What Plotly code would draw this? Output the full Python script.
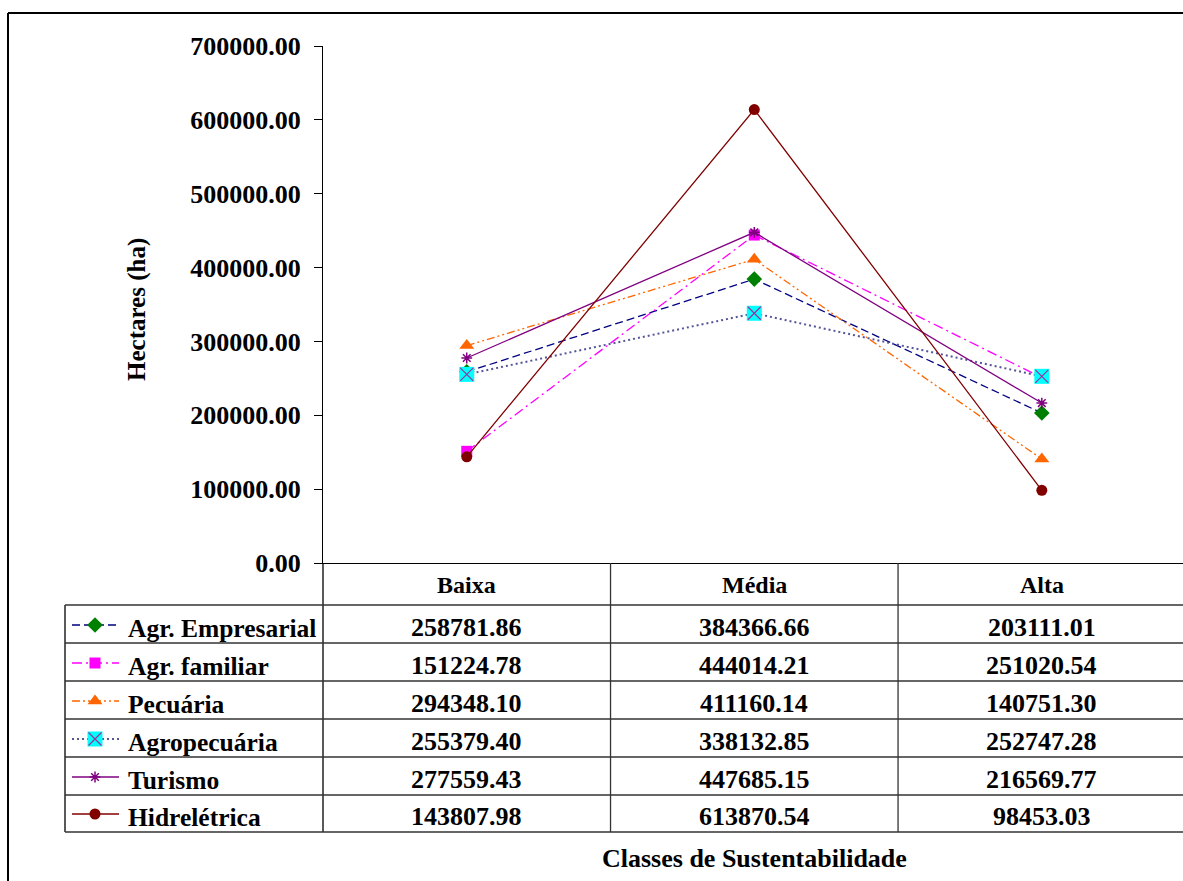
import plotly.graph_objects as go

# ---------------- data ----------------
categories = ["Baixa", "Média", "Alta"]
series_names = ["Agr. Empresarial", "Agr. familiar", "Pecuária", "Agropecuária", "Turismo", "Hidrelétrica"]
agr_empresarial = [258781.86, 384366.66, 203111.01]
agr_familiar = [151224.78, 444014.21, 251020.54]
pecuaria = [294348.10, 411160.14, 140751.30]
agropecuaria = [255379.40, 338132.85, 252747.28]
turismo = [277559.43, 447685.15, 216569.77]
hidreletrica = [143807.98, 613870.54, 98453.03]
series_values = [agr_empresarial, agr_familiar, pecuaria, agropecuaria, turismo, hidreletrica]
y_ticks = [0, 100000, 200000, 300000, 400000, 500000, 600000, 700000]

# ---------------- styles ----------------
W, H = 1183, 881
FONT = "Liberation Serif"
styles = [
    dict(line=dict(color="#000080", width=1.3, dash="8px,4px"),
         marker=dict(symbol="diamond", size=12, color="#008000")),
    dict(line=dict(color="#FF00FF", width=1.3, dash="10px,4px,2px,4px"),
         marker=dict(symbol="square", size=11, color="#FF00FF")),
    dict(line=dict(color="#FF6600", width=1.3, dash="8px,3px,2px,3px,2px,3px"),
         marker=dict(symbol="triangle-up", size=13, color="#FF6600")),
    dict(line=dict(color="#55559A", width=2, dash="2px,3px"),
         marker=dict(symbol="square", size=15, color="#00FFFF")),
    dict(line=dict(color="#800080", width=1.3, dash="solid"),
         marker=dict(symbol="asterisk-open", size=9, color="#800080",
                     line=dict(color="#800080", width=1.5))),
    dict(line=dict(color="#800000", width=1.3, dash="solid"),
         marker=dict(symbol="circle", size=11, color="#800000")),
]
overlay_x = dict(symbol="x-thin-open", size=13, color="#993399",
                 line=dict(color="#993399", width=1.2))


def px(x):
    return x / W


def py(y):
    return 1 - y / H


# layout constants (pixels)
plot_left, plot_top, plot_bottom = 323, 46, 563
header_bottom = 605
row_lines = [605, 643, 681, 719, 757, 795, 832]
row_text_y = [625, 663, 701, 739, 777, 814]
legend_left = 65
sample_x0, sample_xm, sample_x1 = 72, 95, 119
label_x = 126

fig = go.Figure()

for name, vals, st in zip(series_names, series_values, styles):
    fig.add_trace(go.Scatter(x=categories, y=vals, mode="lines+markers", name=name,
                             line=st["line"], marker=st["marker"], showlegend=False,
                             xaxis="x", yaxis="y"))
    if name == "Agropecuária":
        fig.add_trace(go.Scatter(x=categories, y=vals, mode="markers", marker=overlay_x,
                                 showlegend=False, xaxis="x", yaxis="y"))

# legend samples inside table (pixel axes)
for i, st in enumerate(styles):
    yy = row_text_y[i]
    fig.add_trace(go.Scatter(x=[sample_x0, sample_x1], y=[yy, yy], mode="lines",
                             line=st["line"], showlegend=False, xaxis="x2", yaxis="y2",
                             hoverinfo="skip"))
    fig.add_trace(go.Scatter(x=[sample_xm], y=[yy], mode="markers", marker=st["marker"],
                             showlegend=False, xaxis="x2", yaxis="y2", hoverinfo="skip"))
    if i == 3:
        fig.add_trace(go.Scatter(x=[sample_xm], y=[yy], mode="markers", marker=overlay_x,
                                 showlegend=False, xaxis="x2", yaxis="y2", hoverinfo="skip"))

shapes = []
line_col = "#000000"
# outer border
shapes.append(dict(type="line", xref="paper", yref="paper", x0=px(8), x1=px(8), y0=py(13), y1=py(H + 5),
                   line=dict(color="black", width=2)))
shapes.append(dict(type="line", xref="paper", yref="paper", x0=px(8), x1=px(W + 5), y0=py(13), y1=py(13),
                   line=dict(color="black", width=2)))
# y axis continuation down through table
shapes.append(dict(type="line", xref="paper", yref="paper", x0=px(plot_left), x1=px(plot_left),
                   y0=py(plot_bottom), y1=py(row_lines[-1]), line=dict(color=line_col, width=1.3)))
# legend column left border
shapes.append(dict(type="line", xref="paper", yref="paper", x0=px(legend_left), x1=px(legend_left),
                   y0=py(header_bottom), y1=py(row_lines[-1]), line=dict(color=line_col, width=1.3)))
# row lines
for r in row_lines:
    shapes.append(dict(type="line", xref="paper", yref="paper", x0=px(legend_left), x1=px(W + 5),
                       y0=py(r), y1=py(r), line=dict(color="#333333", width=1.3)))
# column separators (category boundaries)
for b in [0.5, 1.5]:
    shapes.append(dict(type="line", xref="x", yref="paper", x0=b, x1=b,
                       y0=py(plot_bottom), y1=py(row_lines[-1]), line=dict(color="#333333", width=1.3)))

annotations = []
hfont = dict(family=FONT, size=24, color="black", weight="bold")
tfont = dict(family=FONT, size=26, color="black", weight="bold")
lfont = dict(family=FONT, size=25.5, color="black", weight="bold")
for c in categories:
    annotations.append(dict(x=c, xref="x", y=py(585), yref="paper", text=c, showarrow=False,
                            font=hfont, xanchor="center", yanchor="middle"))
for i, (name, vals) in enumerate(zip(series_names, series_values)):
    annotations.append(dict(x=px(label_x), xref="paper", y=py(row_text_y[i] + 3), yref="paper",
                            text=name, showarrow=False, font=lfont, xanchor="left", yanchor="middle"))
    for c, v in zip(categories, vals):
        annotations.append(dict(x=c, xref="x", y=py(row_text_y[i] + 2), yref="paper",
                                text=f"{v:.2f}", showarrow=False, font=tfont,
                                xanchor="center", yanchor="middle"))
annotations.append(dict(x=px(755), xref="paper", y=py(858), yref="paper", text="Classes de Sustentabilidade",
                        showarrow=False, font=tfont, xanchor="center", yanchor="middle"))
annotations.append(dict(x=px(137), xref="paper", y=py(310), yref="paper", text="Hectares (ha)",
                        showarrow=False, font=dict(family=FONT, size=25, color="black", weight="bold"),
                        textangle=-90, xanchor="center", yanchor="middle"))

fig.update_layout(
    width=W, height=H,
    margin=dict(l=0, r=0, t=0, b=0),
    paper_bgcolor="white", plot_bgcolor="rgba(0,0,0,0)",
    showlegend=False,
    xaxis=dict(domain=[px(plot_left), 1], range=[-0.5, 2.491], type="category",
               categoryorder="array", categoryarray=categories,
               showline=True, linecolor="black", linewidth=1.3, showgrid=False, zeroline=False,
               showticklabels=False, ticks="", anchor="y", fixedrange=True),
    yaxis=dict(domain=[py(plot_bottom), py(plot_top)], range=[0, 700000],
               tickvals=y_ticks, ticktext=[f"{v:.2f}" for v in y_ticks],
               ticks="outside", ticklen=8, tickcolor="black", tickwidth=1.3,
               showline=True, linecolor="black", linewidth=1.3, showgrid=False, zeroline=False,
               tickfont=dict(family=FONT, size=26, color="black", weight="bold"),
               ticklabelstandoff=8, automargin=False, anchor="x", fixedrange=True),
    xaxis2=dict(domain=[0, 1], range=[0, W], visible=False, anchor="y2", fixedrange=True),
    yaxis2=dict(domain=[0, 1], range=[H, 0], visible=False, anchor="x2", fixedrange=True),
    shapes=shapes,
    annotations=annotations,
)

fig.write_html("out.html", config={"displayModeBar": False},
               post_script="document.body.style.margin='0px';")
